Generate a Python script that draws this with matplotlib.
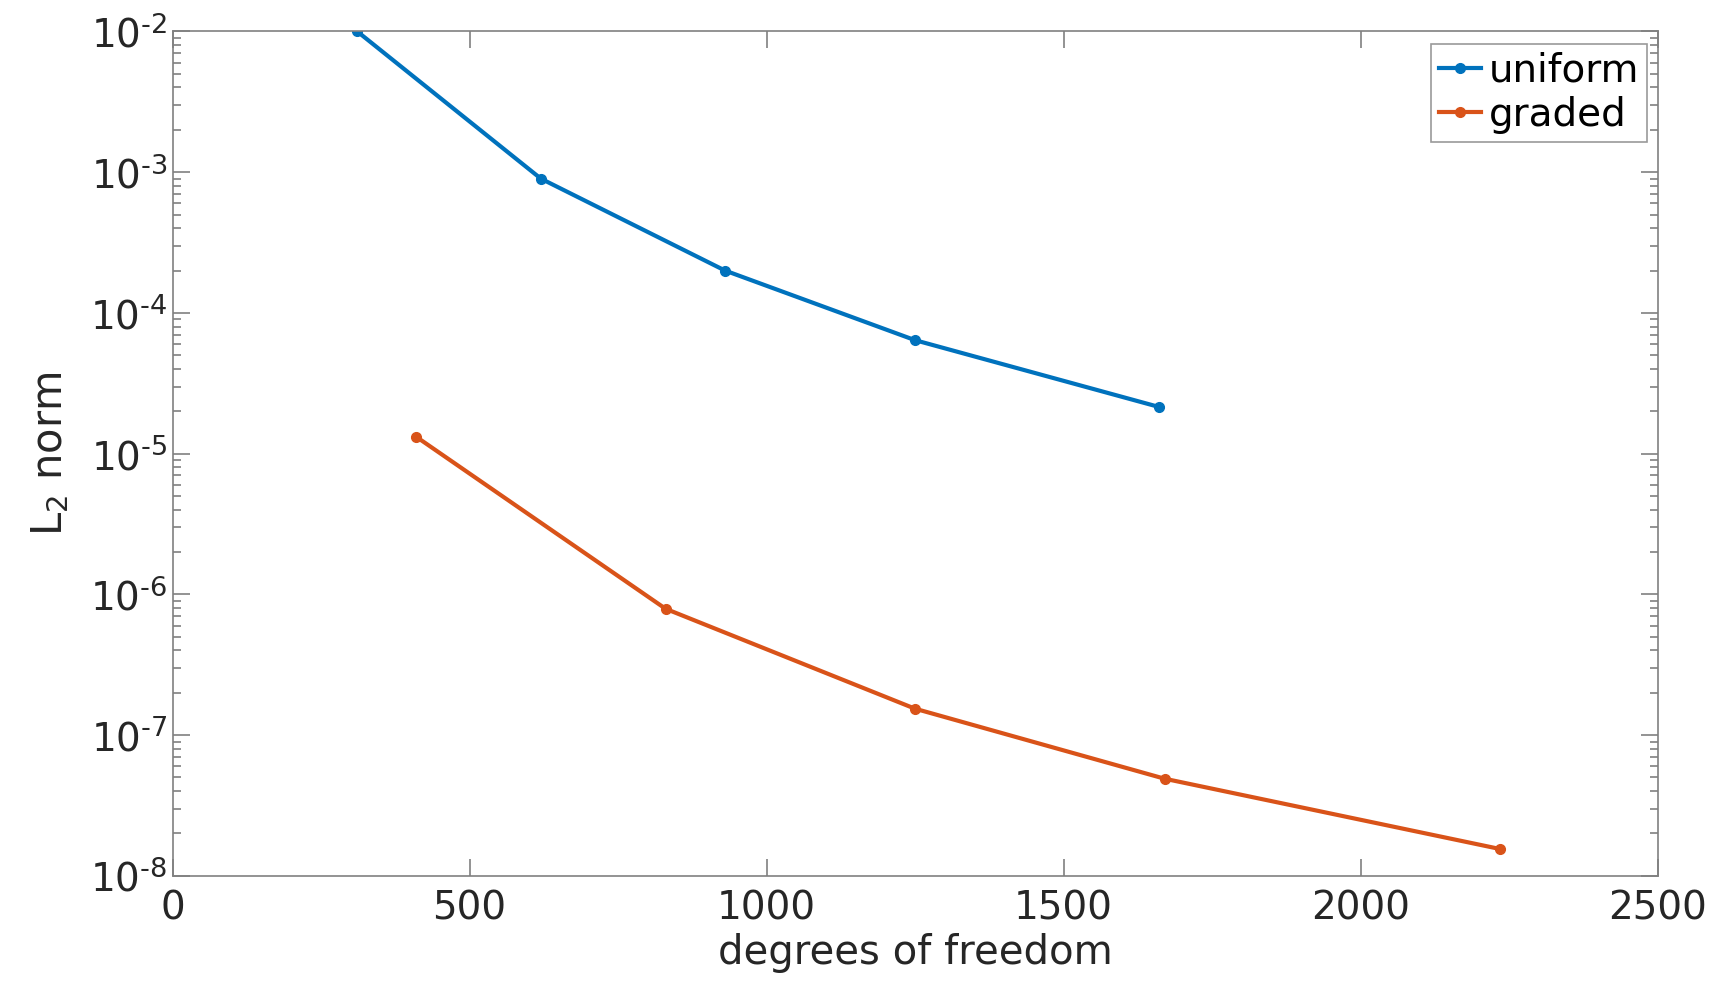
import matplotlib
matplotlib.use("Agg")
import matplotlib.pyplot as plt
from matplotlib.ticker import LogLocator, NullFormatter, FuncFormatter
import numpy as np

plt.rcParams['font.family'] = ['DejaVu Sans']
plt.rcParams['mathtext.fontset'] = 'dejavusans'

# ── data ─────────────────────────────────────────────────────────────────────
uniform_dof = [311, 620, 930, 1250, 1660]
uniform_err = [1.0e-2, 9.0e-4, 2.0e-4, 6.4e-5, 2.15e-5]
graded_dof  = [410, 830, 1250, 1670, 2235]
graded_err  = [1.32e-5, 7.9e-7, 1.54e-7, 4.9e-8, 1.55e-8]

BLUE   = '#0072BD'
ORANGE = '#D95319'
AXCOL  = '#808080'
TXT    = '#262626'

def pow_label(v, pos):
    e = int(round(np.log10(v)))
    sign = '\u2010' if e < 0 else ''
    return r'$\mathregular{10^{%s%d}}$' % (sign, abs(e))

fig = plt.figure(figsize=(17.25, 9.83), dpi=100)
ax = fig.add_axes([0.100, 0.109, 0.861, 0.859])

ax.semilogy(uniform_dof, uniform_err, '-o', color=BLUE, lw=3, ms=7, label='uniform')
ax.semilogy(graded_dof, graded_err, '-o', color=ORANGE, lw=3, ms=7, label='graded')

ax.set_xlim(0, 2500)
ax.set_ylim(1e-8, 1e-2)
ax.set_xticks([0, 500, 1000, 1500, 2000, 2500])
ax.yaxis.set_major_locator(LogLocator(base=10, numticks=10))
ax.yaxis.set_major_formatter(FuncFormatter(pow_label))
ax.yaxis.set_minor_locator(LogLocator(base=10, subs=range(2, 10), numticks=100))
ax.yaxis.set_minor_formatter(NullFormatter())

for sp in ax.spines.values():
    sp.set_color(AXCOL)
    sp.set_linewidth(1.2)
ax.tick_params(which='both', direction='in', top=True, right=True,
               colors=AXCOL, labelcolor=TXT, labelsize=28, width=1.2)
ax.tick_params(which='major', length=12)
ax.tick_params(which='minor', length=6)
ax.tick_params(axis='x', pad=10)

ax.set_xlabel('degrees of freedom', fontsize=29, color=TXT, labelpad=4)
ax.set_ylabel(r'$\mathregular{L_2}$ norm', fontsize=30, color=TXT, labelpad=14)

leg = ax.legend(loc='upper right', fontsize=28, handlelength=1.1, handletextpad=0.2,
                borderpad=0.2, labelspacing=0.15, fancybox=False,
                bbox_to_anchor=(0.993, 0.985), borderaxespad=0)
leg.get_frame().set_edgecolor(AXCOL)
leg.get_frame().set_linewidth(1.2)
for t in leg.get_texts():
    t.set_color('black')

fig.savefig('out.png', dpi=100)
